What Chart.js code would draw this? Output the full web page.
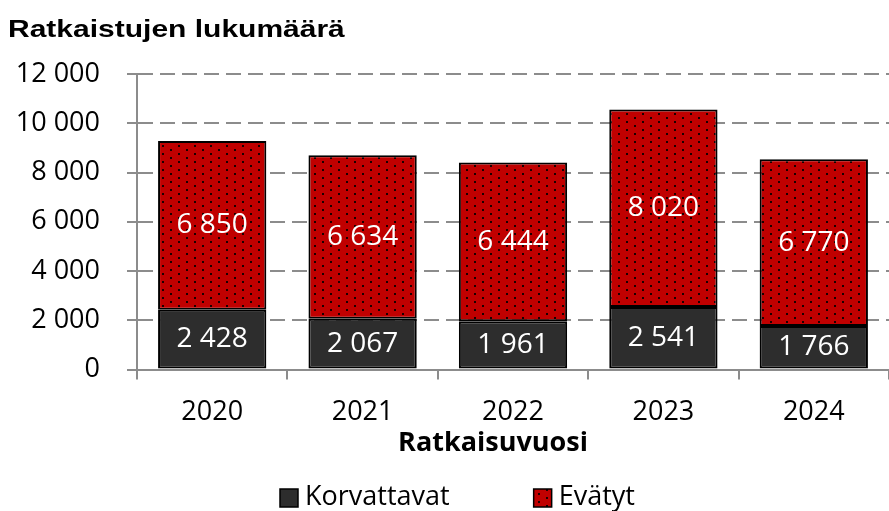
<!DOCTYPE html>
<html>
<head>
<meta charset="utf-8">
<script src="https://cdn.jsdelivr.net/npm/chart.js@4.4.0/dist/chart.umd.min.js"></script>
<style>
  body { margin: 0; background: #fff; }
  #wrap { width: 889px; height: 511px; position: relative; }
</style>
</head>
<body>
<div id="wrap"><canvas id="chart"></canvas></div>
<script>
const years = ['2020', '2021', '2022', '2023', '2024'];
const korvattavat = [2428, 2067, 1961, 2541, 1766];
const evatyt = [6850, 6634, 6444, 8020, 6770];
const yTicks = [0, 2000, 4000, 6000, 8000, 10000, 12000];

const fmt = v => String(v).replace(/\B(?=(\d{3})+(?!\d))/g, ' ');
const font = '"Open Sans", "Noto Sans", sans-serif';
const gridGray = '#8c8c8c';

// red fill with small black dots (Excel dotted pattern)
function dotPattern() {
  const c = document.createElement('canvas');
  c.width = 16; c.height = 8;
  const g = c.getContext('2d');
  g.fillStyle = '#c00000';
  g.fillRect(0, 0, 16, 8);
  g.fillStyle = '#1a0000';
  g.fillRect(2, 1, 2, 2);
  g.fillRect(10, 5, 2, 2);
  return g.createPattern(c, 'repeat');
}
const redFill = dotPattern();

const extras = {
  id: 'extras',
  afterDatasetsDraw(chart) {
    const ctx = chart.ctx;
    ctx.save();
    ctx.fillStyle = '#fff';
    ctx.font = '28px ' + font;
    ctx.textAlign = 'center';
    ctx.textBaseline = 'middle';
    chart.data.datasets.forEach((ds, i) => {
      chart.getDatasetMeta(i).data.forEach((bar, j) => {
        ctx.fillText(fmt(ds.data[j]), bar.x, (bar.y + bar.base) / 2);
      });
    });
    ctx.restore();
  },
  afterDraw(chart) {
    const ctx = chart.ctx;
    ctx.save();
    ctx.fillStyle = '#000';
    ctx.textBaseline = 'middle';
    ctx.textAlign = 'left';
    // the original title is a bit stretched horizontally
    ctx.save();
    ctx.translate(8, 30);
    ctx.scale(1.25, 1);
    ctx.font = 'bold 24px "Liberation Sans", Arial, sans-serif';
    ctx.fillText('Ratkaistujen lukumäärä', 0, 0);
    ctx.restore();

    ctx.textAlign = 'center';
    ctx.font = 'bold 27px ' + font;
    ctx.fillText('Ratkaisuvuosi', 493, 443);

    // legend
    ctx.textAlign = 'left';
    ctx.font = '27px ' + font;
    let x = 280;
    chart.data.datasets.forEach(ds => {
      ctx.fillStyle = ds.backgroundColor;
      ctx.fillRect(x, 489, 18, 18);
      ctx.strokeStyle = '#000';
      ctx.lineWidth = 1.5;
      ctx.strokeRect(x, 489, 18, 18);
      ctx.fillStyle = '#000';
      ctx.fillText(ds.label, x + 25, 497);
      x += 25 + ctx.measureText(ds.label).width + 84;
    });
    ctx.restore();
  }
};

new Chart(document.getElementById('chart'), {
  type: 'bar',
  data: {
    labels: years,
    datasets: [
      { label: 'Korvattavat', data: korvattavat, backgroundColor: '#2d2d2d' },
      { label: 'Evätyt', data: evatyt, backgroundColor: redFill }
    ]
  },
  options: {
    responsive: true,
    maintainAspectRatio: false,
    animation: false,
    layout: { padding: { top: 74, bottom: 65, left: 0, right: 0 } },
    datasets: {
      bar: {
        borderColor: '#000',
        borderWidth: 2,
        borderSkipped: false,
        barPercentage: 0.72,
        categoryPercentage: 1
      }
    },
    plugins: { legend: { display: false }, tooltip: { enabled: false } },
    scales: {
      x: {
        stacked: true,
        grid: { display: true, drawOnChartArea: false, drawTicks: true, tickLength: 10, color: gridGray, lineWidth: 2 },
        border: { color: gridGray, width: 2 },
        ticks: { color: '#000', padding: 17, font: { family: font, size: 27 } }
      },
      y: {
        stacked: true,
        min: 0,
        max: 12000,
        afterFit(scale) { scale.width = 137; },
        afterBuildTicks(scale) { scale.ticks = yTicks.map(v => ({ value: v })); },
        grid: {
          color: gridGray, lineWidth: 2,
          tickBorderDash: [], tickColor: gridGray, tickLength: 10, drawTicks: true
        },
        border: { color: gridGray, width: 2, dash: [15, 7] },
        ticks: { color: '#000', padding: 27, font: { family: font, size: 27 }, callback: v => fmt(v) }
      }
    }
  },
  plugins: [extras]
});
</script>
</body>
</html>
